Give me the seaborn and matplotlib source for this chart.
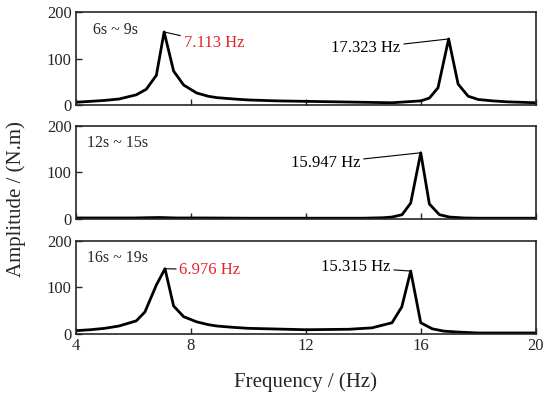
import pandas as pd
import numpy as np
import matplotlib
matplotlib.use('Agg')
import matplotlib.pyplot as plt
import seaborn as sns

# Spectra (frequency in Hz, amplitude in N.m)
freq_a = [4.0, 4.5, 5.0, 5.5, 6.1, 6.45, 6.8, 7.07, 7.4, 7.75, 8.2, 8.6, 8.9, 9.5, 10.0, 11.0, 12.0, 13.0, 14.0,
          15.0, 15.5, 16.0, 16.3, 16.6, 16.97, 17.3, 17.65, 18.0, 18.5, 19.0, 20.0]
amp_a = [6, 8, 10, 13, 22, 34, 64, 157, 73, 43, 26, 19, 16, 13, 11, 9, 8, 7, 6,
         5, 7, 9, 15, 37, 142, 45, 19, 12, 9, 7, 5]

freq_b = [4.0, 5.0, 6.0, 6.9, 7.5, 8.5, 10.0, 12.0, 14.0, 14.7, 15.0, 15.35, 15.65, 16.0, 16.3, 16.65,
          17.0, 17.5, 18.0, 19.0, 20.0]
amp_b = [2, 2, 2, 3, 2, 2, 1.5, 1.5, 1.5, 2.5, 4, 9, 34, 142, 32, 9, 4, 2, 1.5, 1.5, 1.5]

freq_c = [4.0, 4.5, 5.0, 5.5, 6.1, 6.4, 6.8, 7.1, 7.4, 7.75, 8.2, 8.6, 8.9, 9.5, 10.0, 12.0, 13.5, 14.3, 15.0,
          15.34, 15.65, 16.0, 16.4, 16.8, 17.3, 18.0, 19.0, 20.0]
amp_c = [7, 9, 12, 17, 28, 47, 105, 140, 60, 37, 26, 20, 17, 14, 12, 9, 10, 13, 24,
         58, 135, 24, 11, 6, 4, 2, 2, 2]

windows = ['6s ~ 9s', '12s ~ 15s', '16s ~ 19s']

# (label, peak freq, peak amp, text x, text y, ha, colour)
notes_a = [('7.113 Hz', 7.07, 157, 7.75, 133, 'left', '#e0262b'),
           ('17.323 Hz', 16.97, 142, 15.3, 122, 'right', 'black')]
notes_b = [('15.947 Hz', 16.0, 142, 13.9, 120, 'right', 'black')]
notes_c = [('6.976 Hz', 7.1, 140, 7.6, 138, 'left', '#e0262b'),
           ('15.315 Hz', 15.65, 135, 14.95, 143, 'right', 'black')]

sns.set_style('ticks')
plt.rcParams['font.family'] = ['Liberation Serif', 'DejaVu Serif']

fig = plt.figure(figsize=(5.5, 3.98), dpi=100)
left, width, height = 0.138, 0.836, 0.234
bottoms = [0.736, 0.450, 0.161]

panels = [(freq_a, amp_a, notes_a), (freq_b, amp_b, notes_b), (freq_c, amp_c, notes_c)]
for i, (fr, am, notes) in enumerate(panels):
    ax = fig.add_axes([left, bottoms[i], width, height])
    df = pd.DataFrame({'Frequency': fr, 'Amplitude': am})
    sns.lineplot(data=df, x='Frequency', y='Amplitude', ax=ax, color='black', linewidth=2)
    ax.set_xlim(4, 20)
    ax.set_ylim(0, 200)
    ax.set_xticks([4, 8, 12, 16, 20])
    ax.set_yticks([0, 100, 200])
    ax.tick_params(direction='in', length=4, width=1, labelsize=12, pad=3)
    for s in ax.spines.values():
        s.set_linewidth(1.2)
    ax.set_xlabel('')
    ax.set_ylabel('')
    if i < 2:
        ax.set_xticklabels([])
    ax.text(4.4 if i else 4.6, 162, windows[i], fontsize=11.5, va='center', ha='left')
    for lab, px, py, tx, ty, ha, col in notes:
        ax.annotate(lab, xy=(px, py), xytext=(tx, ty), ha=ha, va='center', fontsize=12, color=col,
                    arrowprops=dict(arrowstyle='-', color='black', lw=0.8, shrinkA=0, shrinkB=0))

fig.text(0.03, 0.5, 'Amplitude / (N.m)', rotation=90, va='center', ha='center', fontsize=15)
fig.text(0.556, 0.04, 'Frequency / (Hz)', va='center', ha='center', fontsize=15)

fig.savefig('out.png', dpi=100)
